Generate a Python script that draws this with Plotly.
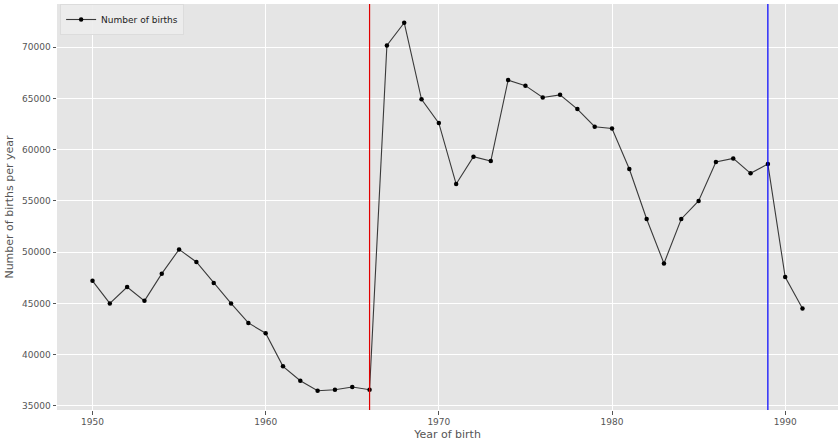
import plotly.graph_objects as go

years = list(range(1950, 1992))
births = [47200, 45000, 46600, 45250, 47900, 50270, 49040, 47000, 45000, 43090,
          42090, 38850, 37450, 36470, 36570, 36830, 36570, 70190, 72400, 64930,
          62600, 56650, 59320, 58900, 66800, 66260, 65100, 65360, 63970, 62250,
          62070, 58120, 53240, 48900, 53240, 55000, 58800, 59150, 57700, 58600,
          47570, 44510]
event_years = [1966, 1989]
event_colors = ["#e00000", "#0000ff"]
x_ticks = [1950, 1960, 1970, 1980, 1990]
y_ticks = [35000, 40000, 45000, 50000, 55000, 60000, 65000, 70000]

GRAY = "#555555"
FONT = "DejaVu Sans"

fig = go.Figure()
fig.add_trace(go.Scatter(
    x=years, y=births, mode="lines+markers", name="Number of births",
    line=dict(color="#3a3a3a", width=1.1),
    marker=dict(color="black", size=4.5, symbol="circle"),
))

for yr, col in zip(event_years, event_colors):
    fig.add_vline(x=yr, line=dict(color=col, width=1.2), layer="above")

fig.update_layout(
    width=838, height=445,
    margin=dict(l=57, r=0, t=4, b=35, autoexpand=False),
    paper_bgcolor="white", plot_bgcolor="#E5E5E5",
    font=dict(family=FONT, color=GRAY, size=9),
    showlegend=True,
    legend=dict(x=0.004, y=1.0, xanchor="left", yanchor="top",
                bgcolor="rgba(236,236,236,0.9)", bordercolor="#dcdcdc", borderwidth=1,
                font=dict(family=FONT, size=9, color="#222222"),
                itemwidth=30, tracegroupgap=0),
    xaxis=dict(range=[1947.95, 1993.05], tickvals=x_ticks, tickformat="d",
               showgrid=True, automargin=False,
               gridcolor="white", gridwidth=1, zeroline=False,
               ticks="outside", ticklen=3.5, tickcolor=GRAY, tickwidth=1,
               tickfont=dict(size=9, color=GRAY),
               title=dict(text="Year of birth", font=dict(size=11, color=GRAY), standoff=4)),
    yaxis=dict(range=[34590, 74230], tickvals=y_ticks, tickformat="d",
               showgrid=True, automargin=False,
               gridcolor="white", gridwidth=1, zeroline=False,
               ticks="outside", ticklen=3.5, tickcolor=GRAY, tickwidth=1,
               tickfont=dict(size=9, color=GRAY),
               title=dict(text="Number of births per year", font=dict(size=11, color=GRAY), standoff=6)),
)

fig.write_html("out.html", config={"displayModeBar": False},
               post_script="document.body.style.margin='0px';")
